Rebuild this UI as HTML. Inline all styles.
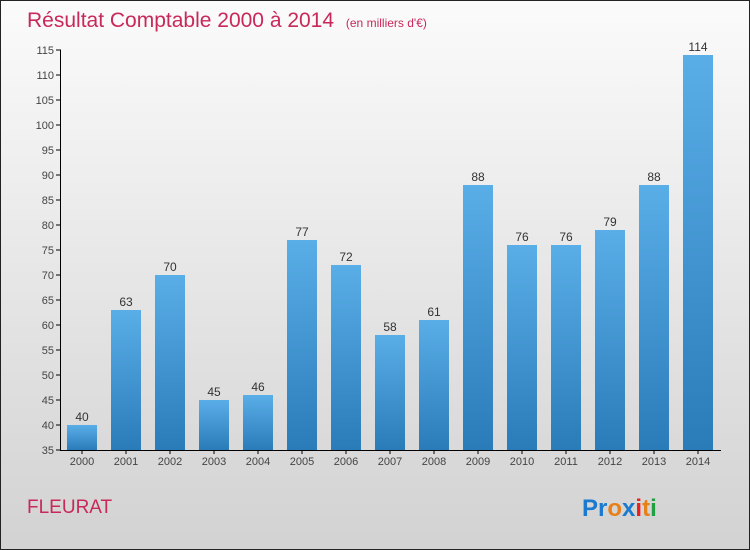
<!DOCTYPE html>
<html><head><meta charset="utf-8"><style>
body{margin:0}
svg{display:block;font-family:"Liberation Sans",sans-serif}
</style></head><body>
<svg id="c" width="750" height="550">
<defs>
<linearGradient id="bg" x1="0" y1="0" x2="0" y2="1"><stop offset="0" stop-color="#fbfbfb"/><stop offset="1" stop-color="#d2d2d2"/></linearGradient>
<linearGradient id="bar" x1="0" y1="0" x2="0" y2="1"><stop offset="0" stop-color="#5aaee8"/><stop offset="1" stop-color="#2a7cb8"/></linearGradient>
</defs>
<rect x="0.5" y="0.5" width="749" height="549" fill="url(#bg)" stroke="#222"/>
<text x="27" y="27" font-size="21" fill="#c8285a">Résultat Comptable 2000 à 2014 <tspan font-size="12" dx="6">(en milliers d'€)</tspan></text>
<text x="27" y="513" font-size="19" fill="#c8285a">FLEURAT</text>
<g font-size="24" font-weight="bold">
<text x="582" y="516" fill="#1a7ad0">Pr<tspan fill="#e8801a">o</tspan><tspan fill="#1a7ad0">x</tspan><tspan fill="#e82020">i</tspan><tspan fill="#e8801a">t</tspan><tspan fill="#20a040">i</tspan></text>
</g>
<g id="plot"></g>
</svg>
<script>
const years=["2000","2001","2002","2003","2004","2005","2006","2007","2008","2009","2010","2011","2012","2013","2014"];
const values=[40,63,70,45,46,77,72,58,61,88,76,76,79,88,114];
const yTicks=[35,40,45,50,55,60,65,70,75,80,85,90,95,100,105,110,115];
const ns="http://www.w3.org/2000/svg";
const g=document.getElementById('plot');
const y=v=>450-(v-35)*5;
const x=i=>82+i*44;
function el(t,a,txt){const e=document.createElementNS(ns,t);for(const k in a)e.setAttribute(k,a[k]);if(txt!=null)e.textContent=txt;g.appendChild(e);return e;}
yTicks.forEach(t=>{
 const tl=el('line',{x1:56,x2:61,y1:y(t),y2:y(t),stroke:'#000'});
 
 
 const l=el('text',{x:54,y:y(t)+4,'font-size':11,fill:'#444','text-anchor':'end'},t);
 
 
});
years.forEach((yr,i)=>{
 const b=el('rect',{x:x(i)-15,y:y(values[i]),width:30,height:450-y(values[i]),fill:'url(#bar)'});
 
 
 const v=el('text',{x:x(i),y:y(values[i])-4,'font-size':12,fill:'#333','text-anchor':'middle'},values[i]);
 
 
 const tk=el('line',{x1:x(i),x2:x(i),y1:450,y2:454,stroke:'#000'});
 
 
 const l=el('text',{x:x(i),y:465,'font-size':11,fill:'#444','text-anchor':'middle'},yr);
 
 
});
const ya=el('line',{x1:60.5,x2:60.5,y1:50,y2:450,stroke:'#000'});


const xa=el('line',{x1:60,x2:721,y1:450.5,y2:450.5,stroke:'#000'});


</script>
</body></html>
